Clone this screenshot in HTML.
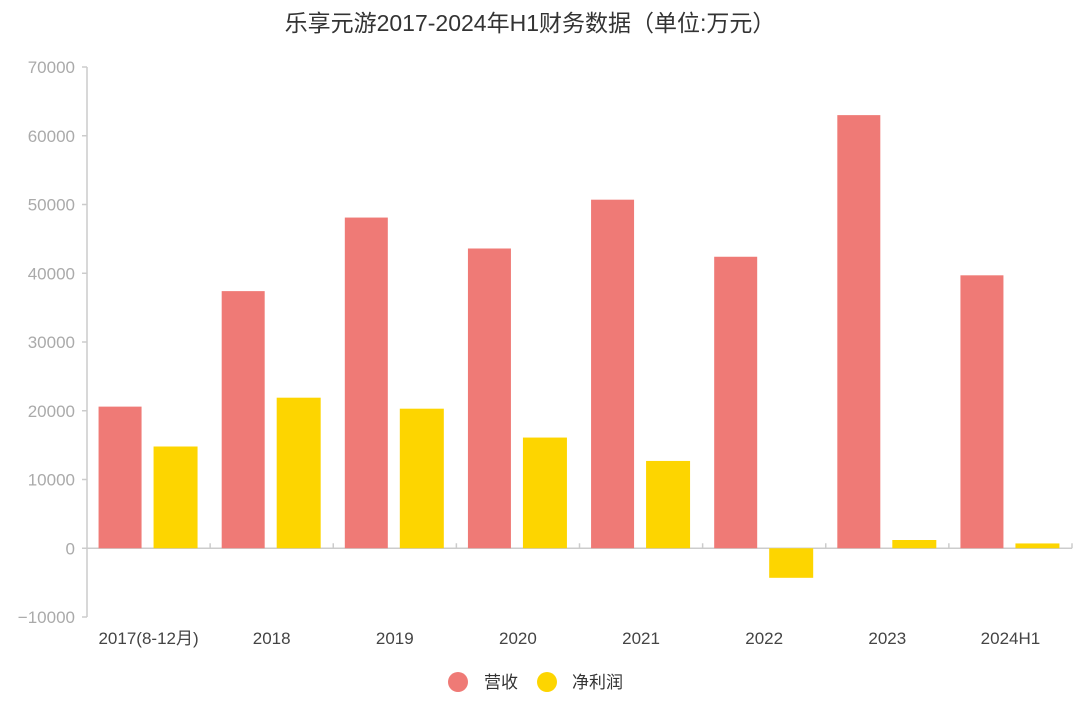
<!DOCTYPE html>
<html><head><meta charset="utf-8">
<style>
html,body{margin:0;padding:0;background:#fff;width:1080px;height:703px;overflow:hidden}
svg{display:block;font-family:"Liberation Sans","Noto Sans CJK SC",sans-serif}
</style></head>
<body>
<svg id="chart" width="1080" height="703" viewBox="0 0 1080 703">
<text x="530" y="31" text-anchor="middle" font-size="23" fill="#333">乐享元游2017-2024年H1财务数据（单位:万元）</text>
<g id="axes"></g><g id="bars"></g>
<g>
<circle cx="458" cy="682" r="10" fill="#ef7a76"/>
<text x="484" y="688" font-size="17" fill="#333">营收</text>
<circle cx="547" cy="682" r="10" fill="#fdd500"/>
<text x="572" y="688" font-size="17" fill="#333">净利润</text>
</g>
</svg>
<script>
const categories=["2017(8-12月)","2018","2019","2020","2021","2022","2023","2024H1"];
const revenue=[20600,37400,48100,43600,50700,42400,63000,39700];
const profit=[14800,21900,20300,16100,12700,-4300,1200,700];
const yTicks=[-10000,0,10000,20000,30000,40000,50000,60000,70000];
const NS="http://www.w3.org/2000/svg";
const x0=87,x1=1072,yMin=-10000,yMax=70000,yTop=67,yBot=617;
const y=v=>yBot-(v-yMin)/(yMax-yMin)*(yBot-yTop);
const bw=(x1-x0)/categories.length;
function mk(tag,attrs,parent){const e=document.createElementNS(NS,tag);for(const k in attrs)e.setAttribute(k,attrs[k]);parent.appendChild(e);return e;}
const ax=document.getElementById('axes'),bg=document.getElementById('bars');
let l=mk('line',{x1:x0,x2:x0,y1:yTop,y2:yBot,stroke:'#ccc','stroke-width':1.5},ax);


yTicks.forEach(t=>{
 const tk=mk('line',{x1:x0-5,x2:x0,y1:y(t),y2:y(t),stroke:'#ccc','stroke-width':1.5},ax);
 
 
 const tx=mk('text',{x:x0-12,y:y(t)+6,'text-anchor':'end','font-size':17,fill:'#aaa'},ax);
 tx.textContent=t<0?'−'+Math.abs(t):String(t);
 
 
});
const za=mk('line',{x1:x0,x2:x1,y1:y(0),y2:y(0),stroke:'#ccc','stroke-width':1.5},ax);


categories.forEach((c,i)=>{
 const cx=x0+bw*(i+0.5);
 const sep=mk('line',{x1:x0+bw*(i+1),x2:x0+bw*(i+1),y1:y(0)-5,y2:y(0),stroke:'#ccc','stroke-width':1.5},ax);
 
 
 const tx=mk('text',{x:cx,y:644,'text-anchor':'middle','font-size':17,fill:'#444'},ax);
 tx.textContent=c;
 
 
 const r=revenue[i],p=profit[i];
 const rb=mk('rect',{x:cx-50,width:43,y:Math.min(y(r),y(0)),height:Math.abs(y(r)-y(0)),fill:'#ef7a76'},bg);
 
 
 const pb=mk('rect',{x:cx+5,width:44,y:Math.min(y(p),y(0)),height:Math.abs(y(p)-y(0)),fill:'#fdd500'},bg);
 
 
});
</script>
</body></html>
